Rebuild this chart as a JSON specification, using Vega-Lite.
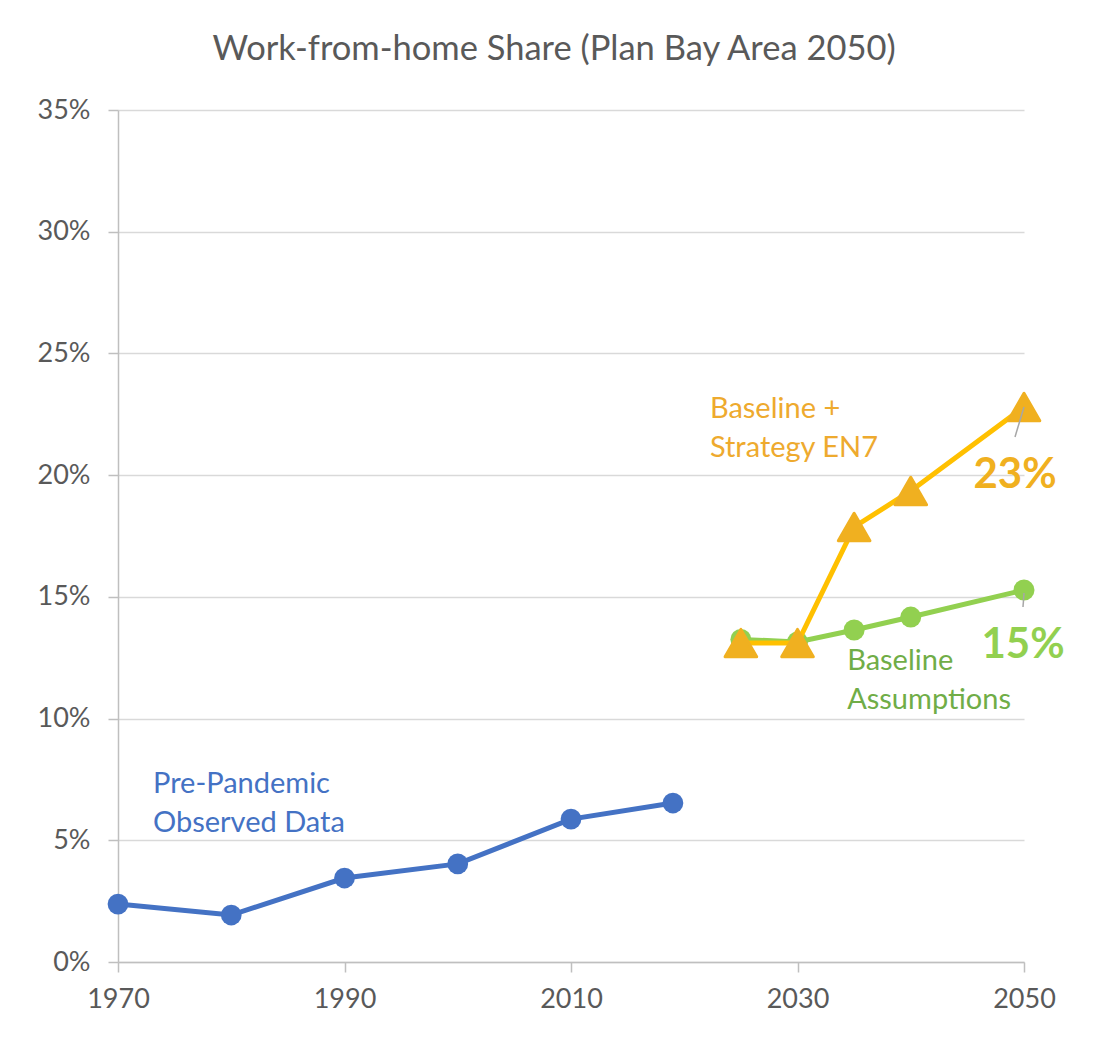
{
  "$schema": "https://vega.github.io/schema/vega-lite/v6.json",
  "width": 906,
  "height": 852,
  "autosize": "none",
  "padding": {"left": 118, "top": 110, "right": 70, "bottom": 75},
  "background": "white",
  "title": {
    "text": "Work-from-home Share (Plan Bay Area 2050)",
    "fontSize": 34.5,
    "font": "Lato",
    "fontWeight": "normal",
    "color": "#595959",
    "anchor": "middle",
    "frame": "group",
    "dx": -17,
    "baseline": "alphabetic",
    "offset": 2
  },
  "config": {
    "font": "Lato",
    "view": {"stroke": null},
    "axis": {
      "labelFont": "Lato",
      "labelFontSize": 27,
      "labelColor": "#595959",
      "domainColor": "#BFBFBF",
      "domainWidth": 1.5,
      "tickColor": "#BFBFBF",
      "tickWidth": 1.5,
      "tickSize": 10,
      "title": null
    }
  },
  "data": {
    "values": [
      {"series": "observed", "label": "Pre-Pandemic\nObserved Data", "year": 1970, "pct": 0.0238},
      {"series": "observed", "label": "Pre-Pandemic\nObserved Data", "year": 1980, "pct": 0.0193},
      {"series": "observed", "label": "Pre-Pandemic\nObserved Data", "year": 1990, "pct": 0.0345},
      {"series": "observed", "label": "Pre-Pandemic\nObserved Data", "year": 2000, "pct": 0.0403},
      {"series": "observed", "label": "Pre-Pandemic\nObserved Data", "year": 2010, "pct": 0.0587},
      {"series": "observed", "label": "Pre-Pandemic\nObserved Data", "year": 2019, "pct": 0.0653},
      {"series": "baseline", "label": "Baseline\nAssumptions", "year": 2025, "pct": 0.1325},
      {"series": "baseline", "label": "Baseline\nAssumptions", "year": 2030, "pct": 0.1315},
      {"series": "baseline", "label": "Baseline\nAssumptions", "year": 2035, "pct": 0.1364},
      {"series": "baseline", "label": "Baseline\nAssumptions", "year": 2040, "pct": 0.1417},
      {"series": "baseline", "label": "Baseline\nAssumptions", "year": 2050, "pct": 0.1528},
      {"series": "en7", "label": "Baseline +\nStrategy EN7", "year": 2025, "pct": 0.131},
      {"series": "en7", "label": "Baseline +\nStrategy EN7", "year": 2030, "pct": 0.131},
      {"series": "en7", "label": "Baseline +\nStrategy EN7", "year": 2035, "pct": 0.1787},
      {"series": "en7", "label": "Baseline +\nStrategy EN7", "year": 2040, "pct": 0.1935},
      {"series": "en7", "label": "Baseline +\nStrategy EN7", "year": 2050, "pct": 0.228}
    ]
  },
  "encoding": {
    "x": {
      "field": "year",
      "type": "quantitative",
      "scale": {"domain": [1970, 2050], "nice": false, "zero": false},
      "axis": {
        "values": [1970, 1990, 2010, 2030, 2050],
        "format": "d",
        "grid": false,
        "labelPadding": 14,
        "labelFlush": false
      }
    },
    "y": {
      "field": "pct",
      "type": "quantitative",
      "scale": {"domain": [0, 0.35], "nice": false},
      "axis": {
        "values": [0, 0.05, 0.1, 0.15, 0.2, 0.25, 0.3, 0.35],
        "format": ".0%",
        "grid": true,
        "gridColor": "#D9D9D9",
        "gridWidth": 1.5,
        "labelPadding": 18,
        "domain": true
      }
    }
  },
  "layer": [
    {
      "transform": [{"filter": {"field": "series", "equal": "observed"}}],
      "mark": {"type": "line", "color": "#4472C4", "strokeWidth": 5}
    },
    {
      "transform": [{"filter": {"field": "series", "equal": "observed"}}],
      "mark": {"type": "point", "shape": "circle", "filled": true, "opacity": 1, "color": "#4472C4", "size": 430}
    },
    {
      "transform": [{"filter": {"field": "series", "equal": "baseline"}}],
      "mark": {"type": "line", "color": "#92D050", "strokeWidth": 5}
    },
    {
      "transform": [{"filter": {"field": "series", "equal": "baseline"}}],
      "mark": {"type": "point", "shape": "circle", "filled": true, "opacity": 1, "color": "#92D050", "size": 440}
    },
    {
      "transform": [{"filter": {"field": "series", "equal": "en7"}}],
      "mark": {"type": "line", "color": "#FFC000", "strokeWidth": 5}
    },
    {
      "transform": [{"filter": {"field": "series", "equal": "en7"}}],
      "mark": {"type": "point", "shape": "triangle-up", "filled": true, "opacity": 1, "color": "#F0B020", "stroke": "#F0B020", "strokeWidth": 3, "strokeJoin": "round", "size": 1000}
    },
    {
      "transform": [{"filter": {"and": [{"field": "series", "equal": "en7"}, {"field": "year", "equal": 2050}]}}],
      "mark": {"type": "rule", "color": "#A6A6A6", "strokeWidth": 1.5, "xOffset": -9, "yOffset": 30, "x2Offset": 0, "y2Offset": 0},
      "encoding": {
        "x2": {"field": "year"},
        "y2": {"field": "pct"}
      }
    },
    {
      "transform": [{"filter": {"and": [{"field": "series", "equal": "baseline"}, {"field": "year", "equal": 2050}]}}],
      "mark": {"type": "rule", "color": "#A6A6A6", "strokeWidth": 1.5, "xOffset": -1, "yOffset": 17, "x2Offset": 0, "y2Offset": 3},
      "encoding": {
        "x2": {"field": "year"},
        "y2": {"field": "pct"}
      }
    },
    {
      "transform": [{"filter": {"and": [{"field": "series", "equal": "en7"}, {"field": "year", "equal": 2050}]}}],
      "mark": {"type": "text", "font": "Lato", "fontWeight": "bold", "fontSize": 42, "color": "#F0B020", "align": "center", "baseline": "alphabetic", "dx": -9, "dy": 81},
      "encoding": {"text": {"field": "pct", "format": ".0%"}}
    },
    {
      "transform": [{"filter": {"and": [{"field": "series", "equal": "baseline"}, {"field": "year", "equal": 2050}]}}],
      "mark": {"type": "text", "font": "Lato", "fontWeight": "bold", "fontSize": 42, "color": "#92D050", "align": "center", "baseline": "alphabetic", "dx": -1, "dy": 68},
      "encoding": {"text": {"field": "pct", "format": ".0%"}}
    },
    {
      "transform": [{"filter": {"and": [{"field": "series", "equal": "observed"}, {"field": "year", "equal": 1970}]}}],
      "mark": {"type": "text", "font": "Lato", "fontSize": 29, "color": "#4472C4", "align": "left", "baseline": "alphabetic", "lineBreak": "\n", "lineHeight": 39, "dx": 35, "dy": -111},
      "encoding": {"text": {"field": "label"}}
    },
    {
      "transform": [{"filter": {"and": [{"field": "series", "equal": "en7"}, {"field": "year", "equal": 2025}]}}],
      "mark": {"type": "text", "font": "Lato", "fontSize": 29, "color": "#EEAA2E", "align": "left", "baseline": "alphabetic", "lineBreak": "\n", "lineHeight": 39, "dx": -31, "dy": -225},
      "encoding": {"text": {"field": "label"}}
    },
    {
      "transform": [{"filter": {"and": [{"field": "series", "equal": "baseline"}, {"field": "year", "equal": 2035}]}}],
      "mark": {"type": "text", "font": "Lato", "fontSize": 29, "color": "#70AD47", "align": "left", "baseline": "alphabetic", "lineBreak": "\n", "lineHeight": 39, "dx": -7, "dy": 40},
      "encoding": {"text": {"field": "label"}}
    }
  ]
}
